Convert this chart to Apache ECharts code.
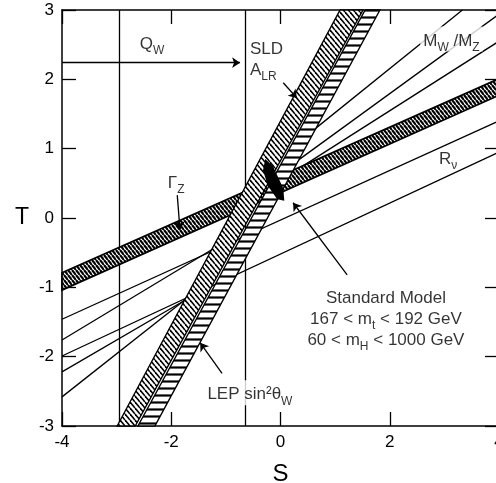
<!DOCTYPE html>
<html>
<head>
<meta charset="utf-8">
<script src="https://cdn.jsdelivr.net/npm/echarts@6/dist/echarts.min.js"></script>
<style>
  html, body { margin: 0; background: #fff; }
  #chart-container { width: 496px; height: 483px; }
</style>
</head>
<body>
<div id="chart-container"></div>
<script>
var dom = document.getElementById("chart-container");
var myChart = echarts.init(dom, null, { renderer: "canvas" });

var FONT = "'Liberation Sans', Arial, sans-serif";

// Q_W band edges (vertical lines, S values) and the width arrow
var qwEdges = [-2.95, -0.65];
var qwArrow = [[-4, 2.24], [-0.74, 2.24]];

// hatched bands, corners as [S, T]
var sldBand = [[-2.99, -3], [1.09, 3], [1.51, 3], [-2.66, -3]];
var lepBand = [[-2.61, -3], [1.55, 3], [1.82, 3], [-2.30, -3]];
var gammaZBand = [[-4, -0.79], [4, 2.01], [4, 1.77], [-4, -1.04]];

// R_nu band edges
var rnuLines = [
  [[-4, -1.46], [4, 1.40]],
  [[-4, -1.99], [4, 0.95]]
];
// M_W/M_Z lines (right of the bands)
var mwmzLines = [
  [[0.45, 1.17], [3.33, 3]],
  [[0.30, 0.82], [4, 2.94]],
  [[0.27, 0.68], [4, 2.55]]
];
// lines left of the bands
var leftLines = [
  [[-4, -1.76], [-1.20, -0.43]],
  [[-4, -2.22], [-1.56, -1.10]],
  [[-4, -2.58], [-1.62, -1.10]]
];

// standard model region (black wedge)
var smRegion = [[-0.28, 0.85], [-0.14, 0.75], [0.05, 0.43], [0.07, 0.25], [-0.06, 0.27], [-0.23, 0.46], [-0.32, 0.69]];

// leader arrows, head at the second point
var pointers = [
  [[0.05, 1.95], [0.30, 1.73]],
  [[1.22, -0.82], [0.23, 0.22]],
  [[-1.07, -2.24], [-1.47, -1.80]],
  [[-1.89, 0.33], [-1.84, -0.17]]
];

// annotations
var notes = [
  { at: [-2.35, 2.54], text: "{m|Q}{s|W}" },
  { at: [-0.56, 2.31], text: "{m|SLD}\n{m|A}{s|LR}", align: "left" },
  { at: [3.13, 2.58], text: "{m|M}{s|W}{m| /M}{s|Z}", bg: true },
  { at: [3.07, 0.87], text: "{m|R}{s|\u03bd}" },
  { at: [-1.91, 0.53], text: "{m|\u0393}{s|Z}" },
  { at: [1.93, -1.43], text: "{m|Standard Model}\n{m|167 < m}{s|t}{m| < 192 GeV}\n{m|60 < m}{s|H}{m| < 1000 GeV}" },
  { at: [-0.56, -2.52], text: "{m|LEP sin\u00b2\u03b8}{s|W}", bg: true }
];

function hatch(w, h, lw, segs) {
  var c = document.createElement("canvas");
  c.width = w;
  c.height = h;
  var ctx = c.getContext("2d");
  ctx.fillStyle = "#fff";
  ctx.fillRect(0, 0, w, h);
  ctx.strokeStyle = "#000";
  ctx.lineWidth = lw;
  segs.forEach(function (s) {
    ctx.beginPath();
    ctx.moveTo(s[0], s[1]);
    ctx.lineTo(s[2], s[3]);
    ctx.stroke();
  });
  return { image: c, repeat: "repeat" };
}
function backslash(w, h, lw) {
  return hatch(w, h, lw, [[-w, 0, 0, h], [0, 0, w, h], [w, 0, 2 * w, h]]);
}

var horizFill = hatch(6, 7, 2.2, [[0, 3.5, 6, 3.5]]);
var sldFill = backslash(5, 6, 1.6);
var gzFill = backslash(4, 5, 2.2);

function band(corners, fill, z, lw) {
  return {
    type: "custom",
    z: z,
    silent: true,
    data: [[0, 0]],
    renderItem: function (params, api) {
      return {
        type: "polygon",
        shape: { points: corners.map(function (c) { return api.coord(c); }) },
        style: { fill: fill, stroke: "#000", lineWidth: lw || 1.4 }
      };
    }
  };
}

function segs(list, z, arrow) {
  return {
    type: "lines",
    coordinateSystem: "cartesian2d",
    z: z,
    silent: true,
    symbol: arrow ? ["none", "arrow"] : ["none", "none"],
    symbolSize: 8,
    lineStyle: { color: "#000", width: 1.3, opacity: 1, curveness: 0 },
    data: list.map(function (s) { return { coords: s }; })
  };
}

var verticals = qwEdges.map(function (s) { return [[s, -3], [s, 3]]; });

var axisCommon = {
  type: "value",
  min: -4,
  max: 4,
  interval: 2,
  splitLine: { show: false },
  axisLine: { onZero: false, lineStyle: { color: "#000", width: 1.5 } },
  axisTick: { inside: true, length: 14, lineStyle: { color: "#000", width: 1.3 } }
};

var option = {
  backgroundColor: "#fff",
  animation: false,
  grid: { left: 62, right: -3, top: 10, bottom: 57, containLabel: false, outerBoundsMode: "none" },
  xAxis: [
    Object.assign({}, axisCommon, {
      position: "bottom",
      axisLabel: { color: "#000", fontSize: 17, margin: 8, fontFamily: FONT },
      name: "S",
      nameLocation: "middle",
      nameGap: 36,
      nameTextStyle: { color: "#000", fontSize: 24, fontFamily: FONT }
    }),
    Object.assign({}, axisCommon, { position: "top", axisLabel: { show: false } })
  ],
  yAxis: [
    Object.assign({}, axisCommon, {
      min: -3, max: 3, interval: 1,
      position: "left",
      axisLabel: { color: "#000", fontSize: 17, margin: 8, fontFamily: FONT },
      name: "T",
      nameLocation: "middle",
      nameRotate: 0,
      nameGap: 33,
      nameTextStyle: { color: "#000", fontSize: 23, fontFamily: FONT }
    }),
    Object.assign({}, axisCommon, {
      min: -3, max: 3, interval: 1,
      position: "right",
      axisLabel: { show: false }
    })
  ],
  series: [
    segs(verticals, 2),
    segs(rnuLines, 2),
    segs(mwmzLines, 2),
    segs(leftLines, 2),
    segs([qwArrow], 2, true),
    band(gammaZBand, gzFill, 3, 1.8),
    band(sldBand, sldFill, 4),
    band(lepBand, horizFill, 4),
    {
      type: "custom",
      z: 5,
      silent: true,
      data: [[0, 0]],
      renderItem: function (params, api) {
        return {
          type: "polygon",
          shape: { points: smRegion.map(function (c) { return api.coord(c); }) },
          style: { fill: "#000" }
        };
      }
    },
    segs(pointers, 6, true),
    {
      type: "scatter",
      z: 7,
      silent: true,
      symbolSize: 0,
      data: notes.map(function (n) {
        return {
          value: n.at,
          label: {
            show: true,
            position: "inside",
            align: n.align || "center",
            formatter: n.text,
            backgroundColor: n.bg ? "#fff" : "transparent",
            padding: n.bg ? [2, 3] : 0,
            rich: {
              m: { fontSize: 17, lineHeight: 21, color: "#000", fontFamily: FONT, verticalAlign: "bottom" },
              s: { fontSize: 12, lineHeight: 14, color: "#000", fontFamily: FONT, verticalAlign: "bottom", padding: [0, 0, -4, 0] }
            }
          }
        };
      })
    }
  ]
};

myChart.setOption(option);

window.addEventListener("resize", function () {
  myChart.resize();
});
</script>
</body>
</html>
